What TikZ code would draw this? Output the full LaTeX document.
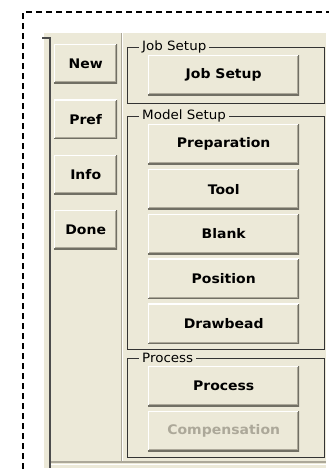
\documentclass[tikz,border=0pt]{standalone}
\usepackage{fontspec}
\setmainfont{DejaVu Sans}
\newfontfamily\grpfont[FakeStretch=1.05]{DejaVu Sans}
\newfontfamily\btnfont[FakeStretch=1.06]{DejaVu Sans}
\usetikzlibrary{positioning}
\definecolor{xpface}{HTML}{ECE9D8}
\definecolor{xpshade}{HTML}{ACA899}
\definecolor{xpdark}{HTML}{716F64}
\definecolor{xpgrey}{HTML}{ACA899}
\tikzset{
  xpbtn/.style   = {rectangle, fill=xpface, inner sep=0pt,
                    font=\btnfont\bfseries\fontsize{13.2}{15}\selectfont,
                    path picture={
                      \draw[white, line width=2pt]
                        (path picture bounding box.south west) |- (path picture bounding box.north east);
                      \draw[xpdark, line width=2pt]
                        (path picture bounding box.south west) -| (path picture bounding box.north east);
                      \draw[xpshade, line width=1pt]
                        ([shift={(1pt,1.5pt)}]path picture bounding box.south west)
                        -| ([shift={(-1.5pt,-1pt)}]path picture bounding box.north east);
                    }},
  sidebtn/.style = {xpbtn, minimum width=63pt, minimum height=39pt},
  mainbtn/.style = {xpbtn, minimum width=151pt, minimum height=40pt},
  offbtn/.style  = {mainbtn, text=xpgrey},
  grpbox/.style  = {rectangle, draw=black!80, line width=0.9pt, anchor=north west,
                    inner sep=0pt, minimum width=197pt},
  grplab/.style  = {fill=xpface, inner sep=3pt, anchor=west,
                    font=\grpfont\fontsize{12.8}{14}\selectfont},
}

\begin{document}
\begin{tikzpicture}[x=1pt, y=-1pt, node distance=16pt]
  \useasboundingbox (0,0) rectangle (329,469);
  % dashed outline
  \draw[dash pattern=on 6pt off 4pt, line width=1.3pt] (23,469) -- (23,12) -- (329,12);
  % panel
  \fill[xpface] (44,32) rectangle (326,468);
  \draw[white, line width=1pt] (44,32.5) -- (326,32.5);
  \draw[black!70, line width=1.4pt] (42,38) -- (50,38) -- (50,468);
  \draw[xpshade, line width=1pt] (121,33) -- (121,462);
  \draw[white, line width=1pt] (122,33) -- (122,462);
  \draw[xpshade, line width=1.5pt] (51,462) -- (326,462);
  \draw[white, line width=1pt] (51,464) -- (326,464);

  % side buttons
  \node[sidebtn, anchor=north west] (new) at (54,44) {New};
  \node[sidebtn, below=of new] (pref) {Pref};
  \node[sidebtn, below=of pref] (info) {Info};
  \node[sidebtn, below=of info] (done) {Done};

  % group frames
  \node[grpbox, minimum height=56pt] (jobgrp) at (127,47) {};
  \node[grpbox, minimum height=233pt] (modgrp) at (127,116) {};
  \node[grpbox, minimum height=99pt] (procgrp) at (127,358) {};
  \node[grplab] (joblab) at ([xshift=12pt]jobgrp.north west) {Job Setup};
  \node[grplab] (modlab) at ([xshift=12pt]modgrp.north west) {Model Setup};
  \node[grplab] (proclab) at ([xshift=12pt]procgrp.north west) {Process};

  % main buttons
  \node[mainbtn, anchor=north west] (jobsetup) at (148,55) {Job Setup};
  \node[mainbtn, anchor=north west] (prep) at (148,124) {Preparation};
  \node[mainbtn, below=4.5pt of prep] (tool) {Tool};
  \node[mainbtn, below=4.5pt of tool] (blank) {Blank};
  \node[mainbtn, below=4.5pt of blank] (position) {Position};
  \node[mainbtn, below=4.5pt of position] (drawbead) {Drawbead};
  \node[mainbtn, anchor=north west] (process) at (148,366) {Process};
  \node[offbtn, below=4.5pt of process] (comp) {Compensation};
\end{tikzpicture}
\end{document}
